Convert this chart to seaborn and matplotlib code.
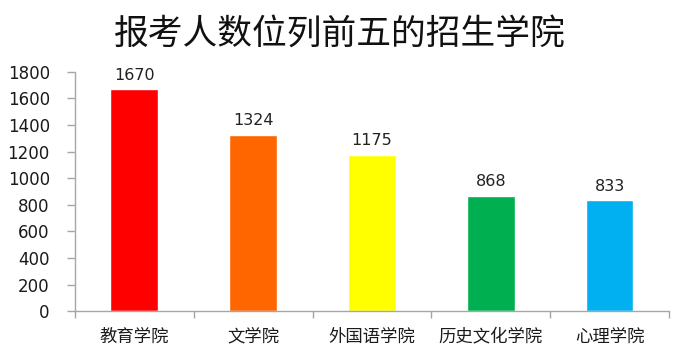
"""
Bar chart: top five admitting colleges by number of applicants
"""

import pandas as pd
import seaborn as sns
import matplotlib.pyplot as plt

colleges = ['教育学院', '文学院', '外国语学院', '历史文化学院', '心理学院']
applicants = [1670, 1324, 1175, 868, 833]
bar_colors = ['#FF0000', '#FF6600', '#FFFF00', '#00B050', '#00B0F0']

df = pd.DataFrame({'college': colleges, 'count': applicants})

sns.set_style('white')
plt.rcParams['font.family'] = ['Noto Sans CJK SC', 'DejaVu Sans']

fig = plt.figure(figsize=(6.8, 3.63), dpi=100)
ax = fig.add_axes([0.110, 0.143, 0.874, 0.659])

sns.barplot(data=df, x='college', y='count', hue='college',
            palette=bar_colors, width=0.4, legend=False, ax=ax, saturation=1)

# value labels above bars
for i, v in enumerate(applicants):
    ax.text(i, v + 50, str(v), ha='center', va='bottom', fontsize=11.5,
            family='DejaVu Sans', color='#222222')

ax.set_ylim(0, 1800)
ax.set_xlim(-0.5, len(colleges) - 0.5)
ax.set_yticks(range(0, 1801, 200))
ax.set_xlabel('')
ax.set_ylabel('')

for side in ['top', 'right']:
    ax.spines[side].set_visible(False)
for side in ['left', 'bottom']:
    ax.spines[side].set_color('#A6A6A6')
    ax.spines[side].set_linewidth(1)

ax.tick_params(axis='y', direction='out', length=6, width=1, color='#A6A6A6',
               labelsize=12, labelcolor='#1a1a1a', left=True, pad=12)
ax.tick_params(axis='x', which='major', length=0, labelsize=12.5, pad=12,
               labelcolor='#1a1a1a')
ax.set_xticks([i - 0.5 for i in range(len(colleges) + 1)], minor=True)
ax.tick_params(axis='x', which='minor', direction='out', length=5, width=1,
               color='#A6A6A6', bottom=True)
for lbl in ax.get_yticklabels():
    lbl.set_family('DejaVu Sans')

fig.suptitle('报考人数位列前五的招生学院', fontsize=25, y=0.955,
             color='#111111', fontweight='light')

fig.savefig('out.png', dpi=100)
